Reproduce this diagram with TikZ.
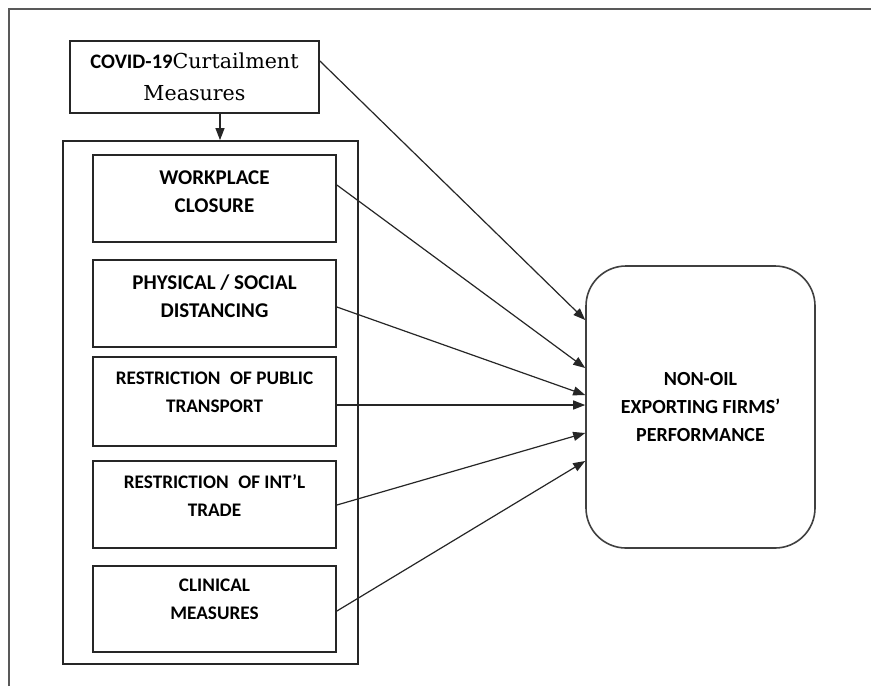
\documentclass[tikz,border=0pt]{standalone}
\usepackage{fontspec}
\setmainfont{Carlito}
\newfontfamily\covserif{DejaVu Serif}
\usetikzlibrary{arrows.meta}

\begin{document}
\begin{tikzpicture}[x=0.5pt,y=-0.5pt,
  measure/.style={draw=black!85,line width=0.9pt,minimum width=121.5pt,minimum height=43.5pt,inner sep=0pt},
  lbl/.style={align=center,font=\bfseries\fontsize{10.5}{14}\selectfont},
  narrow/.style={lbl,font=\bfseries\fontsize{9.6}{14}\selectfont},
  arr/.style={draw=black!85,line width=0.6pt,-{Triangle[length=6pt,width=4.5pt]}}]
  \useasboundingbox[fill=white] (0,0) rectangle (871,686);
  % outer frame
  \draw[black!65,line width=0.8pt] (9,686)--(9,9)--(871,9);

  \node[draw=black!85,line width=0.9pt,minimum width=124.5pt,minimum height=36pt,
        align=center,inner sep=0pt,font=\fontsize{10.3}{16}\selectfont] (covid) at (194.5,77)
        {{\bfseries COVID-19}{\covserif Curtailment}\\{\covserif Measures}};
  \node[draw=black!85,line width=0.9pt,minimum width=147.5pt,minimum height=261.5pt] (grp) at (210.5,402.5) {};

  \node[measure] (wp) at (214.5,198.5) {};
  \node[lbl] (wpt) at ([yshift=3.5pt]wp.center) {WORKPLACE\\CLOSURE};
  \node[measure] (phys) at (214.5,303.5) {};
  \node[lbl] (physt) at ([yshift=3.5pt]phys.center) {PHYSICAL / SOCIAL\\DISTANCING};
  \node[measure,minimum height=44.5pt] (pub) at (214.5,401.5) {};
  \node[narrow] (pubt) at ([yshift=4.5pt]pub.center) {RESTRICTION\enspace OF PUBLIC\\TRANSPORT};
  \node[measure] (intl) at (214.5,504.5) {};
  \node[narrow] (intlt) at ([yshift=4.5pt]intl.center) {RESTRICTION\enspace OF INT’L\\TRADE};
  \node[measure,minimum height=43pt] (clin) at (214.5,609) {};
  \node[narrow] (clint) at ([yshift=5pt]clin.center) {CLINICAL\\MEASURES};

  \node[draw=black!75,line width=0.8pt,rounded corners=20pt,minimum width=114.5pt,minimum height=141pt,
        lbl,font=\bfseries\fontsize{10}{14}\selectfont] (perf) at (700.5,407) {NON-OIL\\EXPORTING FIRMS’\\PERFORMANCE};

  \draw[arr] ([xshift=12.75pt]covid.south) -- ([xshift=12.75pt]covid.south |- grp.north);
  \draw[arr] (covid.east |- 0,61) -- (perf.west |- 0,320);
  \draw[arr] (wp.east |- 0,185) -- (perf.west |- 0,368);
  \draw[arr] (phys.east |- 0,307) -- (perf.west |- 0,395);
  \draw[arr] (pub.east |- 0,405) -- (perf.west |- 0,405);
  \draw[arr] (intl.east |- 0,505) -- (perf.west |- 0,433);
  \draw[arr] (clin.east |- 0,611) -- (perf.west |- 0,461);
\end{tikzpicture}
\end{document}
